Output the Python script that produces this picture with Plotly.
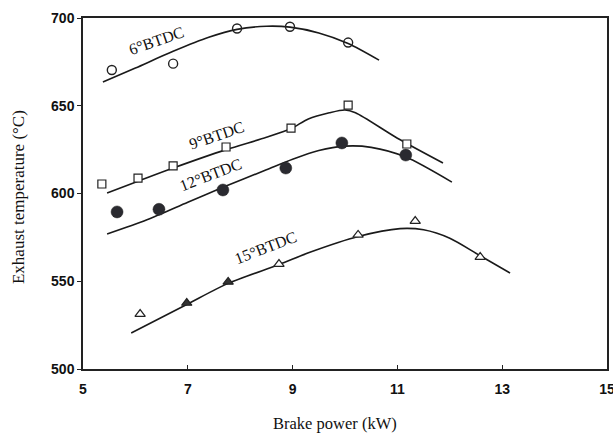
import plotly.graph_objects as go

# Measured points
x6 = [5.55, 6.72, 7.94, 8.95, 10.06]
y6 = [670.4, 674.0, 694.0, 695.0, 686.0]
x9 = [5.36, 6.05, 6.72, 7.73, 8.97, 10.06, 11.18]
y9 = [605.4, 608.8, 615.7, 626.5, 637.3, 650.4, 628.2]
x12 = [5.65, 6.45, 7.67, 8.87, 9.94, 11.16]
y12 = [589.5, 591.0, 602.0, 614.5, 628.8, 621.9]
x15 = [6.09, 6.98, 7.77, 8.74, 10.25, 11.34, 12.58]
y15 = [531.3, 537.6, 549.6, 559.8, 576.4, 584.3, 563.8]

# Fitted curves
cx6 = [5.38, 6.0, 6.72, 7.4, 7.94, 8.5, 8.95, 9.5, 10.06, 10.65]
cy6 = [663.5, 671.5, 681.0, 689.0, 693.5, 695.3, 694.8, 691.5, 685.5, 676.0]
cx9 = [5.46, 6.05, 6.72, 7.73, 8.5, 8.97, 9.3, 9.7, 10.0, 10.2, 11.0, 11.87]
cy9 = [600.3, 607.0, 614.5, 625.0, 632.0, 637.0, 642.5, 646.0, 647.6, 646.0, 631.5, 617.4]
cx12 = [5.46, 6.22, 7.0, 7.67, 8.5, 9.0, 9.5, 10.0, 10.5, 11.16, 12.04]
cy12 = [576.9, 585.0, 595.0, 603.5, 613.5, 619.5, 624.5, 627.0, 626.3, 620.8, 606.5]
cx15 = [5.92, 6.98, 7.77, 8.74, 9.33, 10.25, 11.05, 11.5, 12.0, 12.58, 13.15]
cy15 = [520.5, 536.8, 548.8, 559.5, 566.5, 575.5, 580.0, 579.3, 574.5, 564.5, 554.7]

labels = ["6°BTDC", "9°BTDC", "12°BTDC", "15°BTDC"]
label_x = [6.41, 7.54, 7.44, 8.49]
label_y = [686.9, 633.3, 611.0, 569.5]
label_angle = [-19, -19, -21, -21]

x_ticks = [5, 7, 9, 11, 13, 15]
y_ticks = [500, 550, 600, 650, 700]

fig = go.Figure()
for cx, cy in [(cx6, cy6), (cx9, cy9), (cx12, cy12), (cx15, cy15)]:
    fig.add_trace(go.Scatter(x=cx, y=cy, mode="lines",
                             line=dict(color="#1a1a1a", width=1.6, shape="spline", smoothing=0.8),
                             hoverinfo="skip"))

fig.add_trace(go.Scatter(x=x6, y=y6, mode="markers",
                         marker=dict(symbol="circle-open", size=9, color="#222",
                                     line=dict(width=1.4, color="#222"))))
fig.add_trace(go.Scatter(x=x9, y=y9, mode="markers",
                         marker=dict(symbol="square", size=8, color="white",
                                     line=dict(width=1.2, color="#222"))))
fig.add_trace(go.Scatter(x=x12, y=y12, mode="markers",
                         marker=dict(symbol="circle", size=12, color="#2a2a30",
                                     line=dict(width=0.5, color="#222"))))
fig.add_trace(go.Scatter(x=x15, y=y15, mode="markers",
                         marker=dict(symbol="triangle-up", size=9,
                                     color=["white", "#333", "#333", "white", "white", "white", "white"],
                                     line=dict(width=1.2, color="#222"))))

for t, lx, ly, a in zip(labels, label_x, label_y, label_angle):
    fig.add_annotation(x=lx, y=ly, text=t, textangle=a, showarrow=False,
                       font=dict(family="Liberation Serif", size=16, color="#111"))

fig.add_annotation(xref="paper", yref="paper", x=0.481, y=-0.154, yanchor="middle",
                   text="Brake power (kW)", showarrow=False,
                   font=dict(family="Liberation Serif", size=16.5, color="#111"))
fig.add_annotation(xref="paper", yref="paper", x=-0.124, y=0.49, xanchor="center",
                   text="Exhaust temperature (°C)", textangle=-90, showarrow=False,
                   font=dict(family="Liberation Serif", size=17, color="#111"))

fig.update_layout(
    template="none",
    width=613, height=435,
    margin=dict(l=83, r=6, t=18, b=66),
    paper_bgcolor="white", plot_bgcolor="white",
    showlegend=False,
    xaxis=dict(range=[5, 15], tickvals=x_ticks, ticktext=[f"<b>{v}</b>" for v in x_ticks],
               ticks="inside", ticklen=4, ticklabeloverflow="allow", ticklabelstandoff=6,
               showgrid=False, zeroline=False, showline=True, mirror=True,
               linecolor="#222", linewidth=1.5, tickcolor="#222", automargin=False,
               tickfont=dict(family="Liberation Sans", size=14, color="#111")),
    yaxis=dict(range=[500, 700], tickvals=y_ticks, ticktext=[f"<b>{v}</b>" for v in y_ticks],
               ticks="outside", ticklen=4, ticklabeloverflow="allow",
               showgrid=False, zeroline=False, showline=True, mirror=True,
               linecolor="#222", linewidth=1.5, tickcolor="#222", automargin=False,
               tickfont=dict(family="Liberation Sans", size=14, color="#111")),
)
fig.write_html("out.html", config={"displayModeBar": False},
               post_script="document.body.style.margin='0';document.body.style.padding='0';")
